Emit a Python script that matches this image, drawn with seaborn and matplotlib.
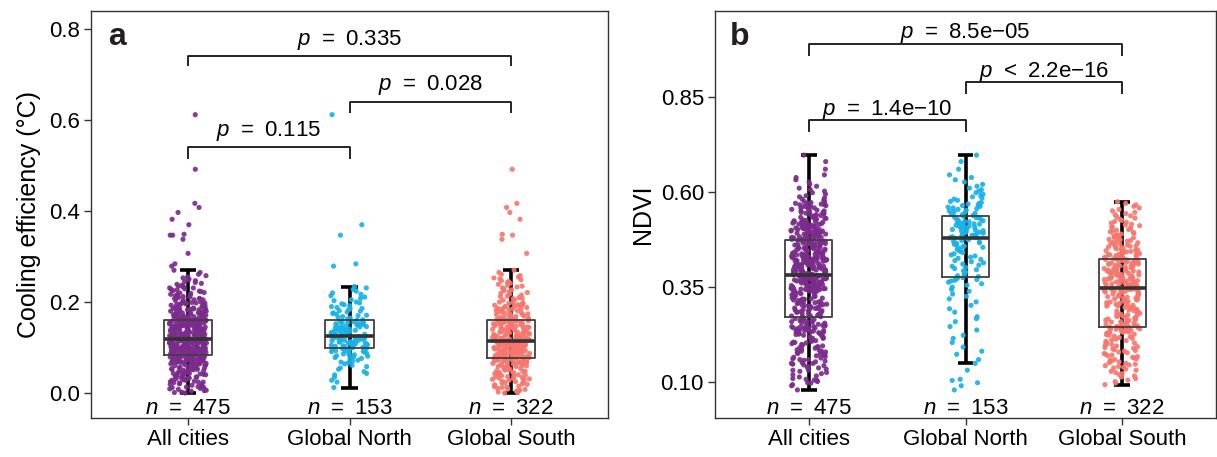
import numpy as np
import pandas as pd
import matplotlib
matplotlib.use("Agg")
import matplotlib.pyplot as plt
import seaborn as sns
from matplotlib import cbook

sns.set_style("white")
plt.rcParams["font.family"] = ["Liberation Sans", "DejaVu Sans"]
plt.rcParams["mathtext.fontset"] = "custom"
plt.rcParams["mathtext.rm"] = "Liberation Sans"
plt.rcParams["mathtext.it"] = "Liberation Sans:italic"
plt.rcParams["text.color"] = "black"
plt.rcParams["axes.labelcolor"] = "black"

# ---------------- data ----------------
categories = ["All cities", "Global North", "Global South"]
colors = ["#7B2B8C", "#16B2E8", "#F8766D"]

# Cooling efficiency (degC), values x1000
north_cooling = [
    12, 24, 28, 35, 40, 43, 47, 52, 55, 58, 61, 64, 66, 68, 70, 72, 74, 76, 78, 79,
    81, 82, 83, 84, 86, 87, 88, 89, 90, 91, 92, 93, 94, 94, 95, 96, 97, 97,
    98,
    99, 100, 101, 101, 102, 103, 104, 104, 105, 106, 107, 107, 108, 109, 110, 110, 111, 112, 113, 113,
    114, 115, 116, 116, 117, 118, 119, 119, 120, 121, 122, 122, 123, 124, 124, 125, 125,
    126,
    127, 128, 129, 130, 131, 131, 132, 133, 134, 135, 136, 137, 138, 138, 139, 140, 141, 142, 143, 144,
    145, 145, 146, 147, 148, 149, 150, 151, 152, 152, 153, 154, 155, 156, 157, 158, 160,
    161,
    163, 165, 166, 168, 170, 171, 173, 175, 176, 178, 180, 181, 183, 185, 186, 188, 190, 192, 194, 196,
    198, 200, 203, 205, 208, 211, 214, 217, 220, 224, 228, 231, 234,
    279, 284, 347, 370, 612,
]
south_cooling = [
    0, 1, 2, 4, 5, 6, 8, 9, 10, 12, 13, 14, 15, 17, 18, 19, 20, 22, 23, 24,
    25, 26, 28, 29, 30, 31, 32, 33, 34, 35, 36, 37, 38, 39, 40, 41, 42, 43, 44, 45,
    46, 47, 48, 49, 50, 51, 52, 52, 53, 54, 55, 56, 57, 58, 58, 59, 60, 61, 62, 62,
    63, 64, 65, 65, 66, 67, 67, 68, 69, 69, 70, 71, 71, 72, 72, 73, 74, 74, 75, 75,
    76, 76,
    77, 77, 78, 78, 79, 79, 80, 80, 81, 81, 82, 82, 83, 83, 84, 84, 85, 85, 86, 86,
    87, 87, 88, 88, 89, 89, 90, 90, 91, 91, 92, 92, 93, 93, 94, 94, 95, 95, 96, 96,
    97, 97, 98, 98, 99, 99, 100, 100, 101, 101, 102, 102, 103, 103, 104, 104, 105, 105, 106, 106,
    107, 107, 108, 108, 109, 109, 110, 110, 110, 111, 111, 111, 112, 112, 112, 113, 113, 113,
    114, 114,
    115, 115, 116, 116, 117, 117, 118, 118, 119, 119, 120, 120, 121, 121, 122, 122, 123, 124, 124, 125,
    126, 126, 127, 128, 128, 129, 130, 130, 131, 132, 132, 133, 134, 134, 135, 136, 136, 137, 138, 138,
    139, 140, 140, 141, 142, 142, 143, 144, 145, 145, 146, 147, 147, 148, 149, 150, 150, 151, 152, 152,
    153, 154, 154, 155, 156, 156, 157, 157, 158, 158, 159, 159, 160, 160, 160, 160, 161, 161,
    161, 161,
    162, 163, 164, 165, 166, 167, 168, 169, 170, 171, 172, 173, 174, 175, 176, 177, 178, 179, 180, 181,
    182, 183, 184, 185, 186, 187, 188, 189, 190, 191, 192, 193, 194, 195, 196, 197, 198, 199, 200,
    204, 205, 207, 208, 210, 212, 213, 215, 217, 219, 221, 223, 225, 227, 229, 231, 233, 235, 237, 239,
    241, 243, 245, 247, 249, 251, 253, 255, 258, 261, 265, 270,
    307, 338, 347, 349, 382, 397, 408, 417, 492,
]

# NDVI, values x1000
north_ndvi = [
    78, 89, 97, 103, 106, 130,
    148, 158, 172, 180, 191, 203, 214, 222, 236, 245, 258, 266, 271, 283, 292, 301, 310, 318, 325, 331,
    338, 343, 349, 354, 358, 362, 365, 367, 369, 371, 372, 374,
    377,
    379, 382, 386, 389, 392, 395, 398, 401, 404, 407, 410, 413, 416, 419, 422, 425, 428, 431, 434, 437,
    440, 443, 446, 449, 452, 454, 456, 458, 460, 462, 464, 466, 468, 470, 472, 474, 476,
    478,
    479, 480, 482, 483, 485, 486, 488, 489, 491, 492, 494, 495, 497, 498, 500, 501, 503, 504, 506, 507,
    509, 510, 512, 513, 515, 516, 518, 519, 521, 522, 524, 526, 528, 530, 532, 533, 535,
    536,
    538, 540, 542, 544, 546, 548, 550, 552, 554, 556, 558, 560, 562, 564, 566, 568, 570, 572, 575, 578,
    581, 584, 587, 590, 594, 598, 602, 606, 610, 615, 620, 626, 632, 638, 645, 660, 680, 697,
]
south_ndvi = [
    92, 96, 100, 104, 108, 112, 115, 118, 121, 124, 127, 130, 133, 136, 138, 140, 142, 144, 146, 148,
    150, 152, 154, 156, 158, 160, 162, 164, 166, 168, 170, 172, 174, 176, 178, 180, 182, 184, 186, 188,
    190, 192, 194, 196, 198, 200, 202, 204, 206, 208, 210, 212, 214, 216, 218, 220, 222, 224, 225, 227,
    228, 229, 230, 231, 232, 233, 234, 235, 236, 237, 238, 239, 240, 241, 241, 242, 242, 243, 243, 244,
    245, 245,
    247, 248, 250, 251, 252, 254, 255, 257, 258, 259, 261, 262, 264, 265, 266, 268, 269, 271, 272, 273,
    275, 276, 278, 279, 280, 282, 283, 285, 286, 287, 289, 290, 292, 293, 294, 296, 297, 299, 300, 301,
    303, 304, 306, 307, 308, 310, 311, 313, 314, 315, 317, 318, 320, 321, 322, 324, 325, 327, 328, 329,
    331, 332, 334, 335, 336, 338, 339, 340, 341, 342, 342, 343, 343, 344, 344, 345, 345, 345,
    346, 346,
    347, 348, 349, 350, 351, 352, 353, 354, 355, 356, 357, 358, 359, 360, 361, 362, 363, 364, 365, 366,
    367, 368, 369, 370, 371, 372, 373, 374, 375, 376, 377, 378, 379, 380, 381, 382, 383, 384, 385, 386,
    387, 388, 389, 390, 391, 392, 393, 394, 395, 396, 397, 398, 399, 400, 401, 402, 403, 404, 405, 406,
    407, 408, 409, 410, 411, 412, 413, 414, 415, 416, 417, 418, 419, 420, 420, 421, 421, 421,
    422, 422,
    423, 424, 425, 426, 427, 428, 429, 430, 431, 432, 434, 435, 436, 437, 438, 440, 441, 442, 443, 445,
    446, 447, 449, 450, 451, 453, 454, 455, 457, 458, 460, 461, 463, 464, 466, 467, 469, 470, 472, 474,
    475, 477, 479, 480, 482, 484, 486, 487, 489, 491, 493, 495, 497, 499, 501, 503, 505, 507, 509, 511,
    513, 515, 518, 520, 522, 525, 528, 531, 534, 537, 540, 543, 546, 550, 554, 558, 562, 566, 570, 574,
]

# p-value labels: (All vs North, North vs South, All vs South)
SP = "\u2002"
p_cooling = ["=" + SP + "0.115", "=" + SP + "0.028", "=" + SP + "0.335"]
p_ndvi = ["=" + SP + "1.4e\u221210", "<" + SP + "2.2e\u221216", "=" + SP + "8.5e\u221205"]

cooling_ticks = [0.0, 0.2, 0.4, 0.6, 0.8]
cooling_ticklabels = ["0.0", "0.2", "0.4", "0.6", "0.8"]
ndvi_ticks = [0.10, 0.35, 0.60, 0.85]
ndvi_ticklabels = ["0.10", "0.35", "0.60", "0.85"]


def make_df(north, south):
    n = np.asarray(north, dtype=float) / 1000.0
    s = np.asarray(south, dtype=float) / 1000.0
    allv = np.concatenate([n, s])
    groups = [categories[0]] * len(allv) + [categories[1]] * len(n) + [categories[2]] * len(s)
    return pd.DataFrame({"group": groups, "value": np.concatenate([allv, n, s])})


SPINE = "#333333"


def draw_panel(ax, df, seed):
    # error-bar style whiskers (drawn underneath)
    for i, cat in enumerate(categories):
        st = cbook.boxplot_stats(df.loc[df["group"] == cat, "value"].values)[0]
        ax.vlines(i, st["whislo"], st["whishi"], color="black", lw=2.6, zorder=1)
        ax.hlines([st["whislo"], st["whishi"]], i - 0.05, i + 0.05,
                  color="black", lw=2.6, zorder=1)
    np.random.seed(seed)
    sns.stripplot(data=df, x="group", y="value", hue="group", order=categories,
                  hue_order=categories, palette=colors, jitter=0.115, size=3.7,
                  alpha=0.92, linewidth=0, legend=False, ax=ax, zorder=2)
    sns.boxplot(data=df, x="group", y="value", order=categories, width=0.3,
                showfliers=False, showcaps=False, fill=False, color="#404040",
                linewidth=1.3, whiskerprops={"linewidth": 0},
                medianprops={"linewidth": 2.6, "color": "#333333"},
                ax=ax, zorder=3)
    ax.set_xlim(-0.6, 2.6)
    ax.set_xlabel("")
    for sp in ax.spines.values():
        sp.set_visible(True)
        sp.set_color(SPINE)
        sp.set_linewidth(1.0)
    ax.tick_params(axis="both", which="both", direction="out", length=5, width=1.0,
                   color=SPINE, labelcolor="black", labelsize=16, pad=3,
                   left=True, bottom=True)
    for i, cat in enumerate(categories):
        cnt = int((df["group"] == cat).sum())
        ax.text(i, 0.009, "$n$" + SP + "=" + SP + str(cnt),
                transform=ax.get_xaxis_transform(),
                ha="center", va="baseline", fontsize=16, color="black")


def bracket(ax, x1, x2, y, tick, label, ybase):
    ax.plot([x1, x1, x2, x2], [y - tick, y, y, y - tick], color="black", lw=1.2,
            solid_capstyle="butt", zorder=4)
    ax.text((x1 + x2) / 2, ybase, "$p$" + SP + label, ha="center", va="baseline",
            fontsize=16, color="black")


fig = plt.figure(figsize=(12.17, 4.57), dpi=100)
ax1 = fig.add_axes([91 / 1217, 39 / 457, 517 / 1217, 407 / 457])
ax2 = fig.add_axes([715 / 1217, 39 / 457, 501 / 1217, 407 / 457])

df_a = make_df(north_cooling, south_cooling)
df_b = make_df(north_ndvi, south_ndvi)

draw_panel(ax1, df_a, 7)
ax1.set_ylim(-0.055, 0.84)
ax1.set_yticks(cooling_ticks)
ax1.set_yticklabels(cooling_ticklabels)
ax1.set_ylabel("Cooling efficiency (\u00b0C)", fontsize=18, labelpad=6, color="black")
bracket(ax1, 0, 1, 0.541, 0.027, p_cooling[0], 0.565)
bracket(ax1, 1, 2, 0.640, 0.024, p_cooling[1], 0.666)
bracket(ax1, 0, 2, 0.741, 0.021, p_cooling[2], 0.765)
ax1.text(0.033, 0.916, "a", transform=ax1.transAxes, fontsize=23,
         fontweight="bold", va="baseline", color="#231f20")

draw_panel(ax2, df_b, 11)
ax2.set_ylim(0.004, 1.077)
ax2.set_yticks(ndvi_ticks)
ax2.set_yticklabels(ndvi_ticklabels)
ax2.set_ylabel("NDVI", fontsize=18, labelpad=4, color="black")
bracket(ax2, 0, 1, 0.789, 0.030, p_ndvi[0], 0.803)
bracket(ax2, 1, 2, 0.890, 0.032, p_ndvi[1], 0.902)
bracket(ax2, 0, 2, 0.990, 0.031, p_ndvi[2], 1.006)
ax2.text(0.03, 0.916, "b", transform=ax2.transAxes, fontsize=23,
         fontweight="bold", va="baseline", color="#231f20")

fig.savefig("out.png", dpi=100)
